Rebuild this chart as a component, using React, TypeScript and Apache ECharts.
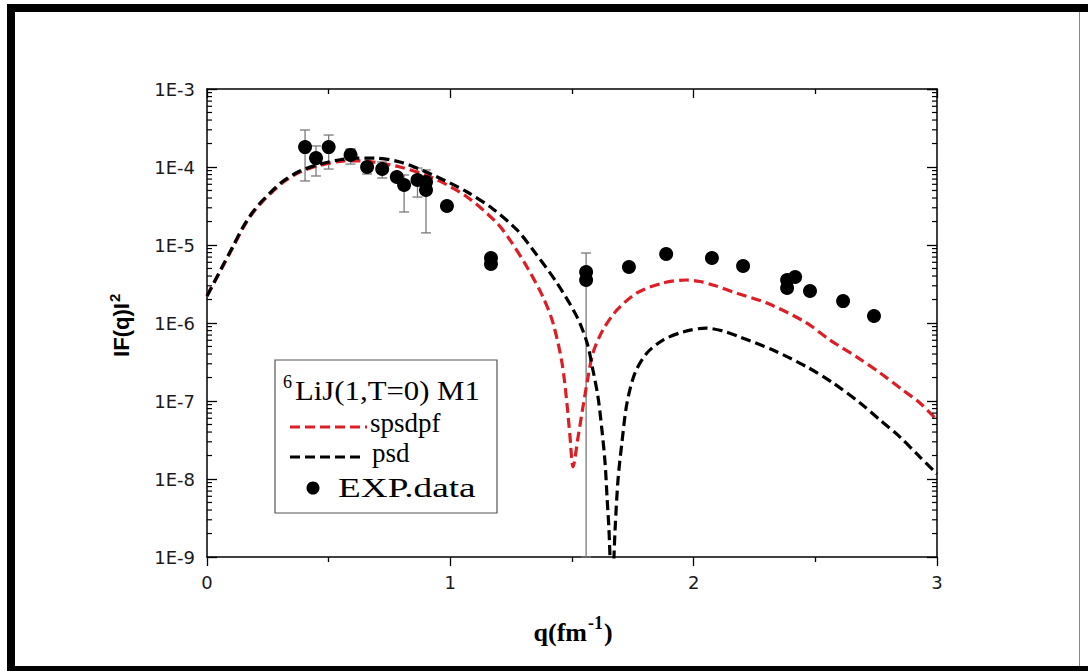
import React, { useEffect, useRef } from 'react';
import * as echarts from 'echarts';

// ---- Experimental data ----
const expQ = [0.403, 0.448, 0.5, 0.59, 0.658, 0.72, 0.78, 0.81, 0.865, 0.9, 0.9, 0.986, 1.167, 1.167, 1.558, 1.558, 1.734, 1.887, 2.075, 2.203, 2.384, 2.417, 2.384, 2.478, 2.614, 2.741];
const expVal = [1.8e-4, 1.3e-4, 1.8e-4, 1.43e-4, 1.0e-4, 9.42e-5, 7.44e-5, 5.88e-5, 6.81e-5, 6.42e-5, 5.07e-5, 3.16e-5, 6.81e-6, 5.71e-6, 4.51e-6, 3.56e-6, 5.22e-6, 7.67e-6, 6.81e-6, 5.38e-6, 3.56e-6, 3.89e-6, 2.81e-6, 2.57e-6, 1.91e-6, 1.23e-6];

// ---- Error bars ----
const errQ = [0.403, 0.448, 0.5, 0.59, 0.658, 0.72, 0.81, 0.865, 0.9, 1.558];
const errLow = [6.62e-5, 7.67e-5, 9.42e-5, 1.09e-4, 8.13e-5, 7.23e-5, 2.65e-5, 4.12e-5, 1.43e-5, 1e-9];
const errHigh = [2.98e-4, 1.86e-4, 2.57e-4, 1.7e-4, 1.12e-4, 1.16e-4, 7.9e-5, 9.7e-5, 9.16e-5, 7.89e-6];

// ---- psd (black dashed) ----
const psdQ = [0, 0.062, 0.103, 0.148, 0.185, 0.226, 0.267, 0.308, 0.382, 0.464, 0.547, 0.616, 0.682, 0.793, 0.929, 1.069, 1.175, 1.274, 1.34, 1.438, 1.521, 1.562, 1.586, 1.607, 1.623, 1.636, 1.644, 1.652, 1.664, 1.677, 1.689, 1.705, 1.726, 1.759, 1.808, 1.874, 1.956, 2.05, 2.12, 2.19, 2.326, 2.466, 2.573, 2.684, 2.766, 2.848, 2.93, 3.0];
const psdVal = [2.22e-6, 5.22e-6, 9.16e-6, 1.7e-5, 2.57e-5, 3.66e-5, 4.92e-5, 6.42e-5, 8.89e-5, 1.09e-4, 1.24e-4, 1.3e-4, 1.3e-4, 1.16e-4, 7.89e-5, 4.78e-5, 2.9e-5, 1.56e-5, 8.63e-6, 3.26e-6, 1.19e-6, 5.54e-7, 2.5e-7, 1.12e-7, 4.25e-8, 1.6e-8, 5.88e-9, 2.22e-9, 3e-10, 2.22e-9, 9.7e-9, 2.9e-8, 9.42e-8, 2.29e-7, 4.12e-7, 6.05e-7, 7.67e-7, 8.6e-7, 7.9e-7, 6.62e-7, 4.5e-7, 2.73e-7, 1.7e-7, 9.42e-8, 5.7e-8, 3.45e-8, 1.91e-8, 1.16e-8];

// ---- spsdpf (red dashed) ----
const spsQ = [0, 0.062, 0.103, 0.148, 0.185, 0.226, 0.267, 0.308, 0.382, 0.464, 0.547, 0.616, 0.682, 0.793, 0.929, 1.069, 1.192, 1.245, 1.315, 1.381, 1.422, 1.459, 1.479, 1.492, 1.504, 1.525, 1.545, 1.566, 1.586, 1.627, 1.685, 1.767, 1.874, 1.969, 2.026, 2.09, 2.162, 2.301, 2.458, 2.56, 2.671, 2.766, 2.86, 2.93, 3.0];
const spsVal = [2.22e-6, 5.1e-6, 8.9e-6, 1.65e-5, 2.5e-5, 3.55e-5, 4.75e-5, 6.2e-5, 8.6e-5, 1.05e-4, 1.18e-4, 1.2e-4, 1.16e-4, 1.0e-4, 7.23e-5, 4.12e-5, 1.91e-5, 1.16e-5, 5.22e-6, 2.15e-6, 1e-6, 3.07e-7, 9.42e-8, 3.45e-8, 1.43e-8, 3.45e-8, 8.38e-8, 2.03e-7, 4.12e-7, 8.13e-7, 1.47e-6, 2.43e-6, 3.26e-6, 3.56e-6, 3.4e-6, 3.0e-6, 2.5e-6, 1.8e-6, 1.03e-6, 6.05e-7, 3.66e-7, 2.29e-7, 1.38e-7, 9.42e-8, 5.7e-8];

// ---- axis ticks ----
const yDecades = [-9, -8, -7, -6, -5, -4];
const minorMult = [2, 3, 4, 5, 6, 7, 8, 9];

const RED = '#dc1f26';
const ERR = '#7a7a7a';
const serif = '"Liberation Serif", "Times New Roman", serif';
const sans = '"Liberation Sans", Arial, sans-serif';

function txt(x: number, y: number, text: string, font: string, align = 'left', extra: any = {}) {
  return {
    type: 'text', x, y, silent: true, ...extra,
    style: { text, font, fill: '#000', align, verticalAlign: 'middle', textAlign: align, textVerticalAlign: 'middle' },
  };
}

export default function App() {
  const ref = useRef<HTMLDivElement>(null);
  useEffect(() => {
    const chart = echarts.init(ref.current!, null, { renderer: 'svg' });
    const minorData: number[][] = [];
    yDecades.forEach((d) => minorMult.forEach((m) => minorData.push([0, m * Math.pow(10, d)])));

    const xAxisBase = {
      type: 'value', min: 0, max: 3, interval: 1,
      splitLine: { show: false },
      axisLine: { show: true, onZero: false, lineStyle: { color: '#000', width: 1.5 } },
    };
    const yAxisBase = {
      type: 'log', logBase: 10, min: 1e-9, max: 1e-3,
      splitLine: { show: false },
      axisLine: { show: true, onZero: false, lineStyle: { color: '#000', width: 1.5 } },
    };

    const option: any = {
      animation: false,
      grid: { left: 207, right: 151, top: 89, bottom: 114 },
      xAxis: [
        {
          ...xAxisBase, position: 'bottom',
          axisTick: { show: true, inside: false, length: 9, lineStyle: { color: '#000', width: 1.3 } },
          minorTick: { show: true, splitNumber: 2, length: 5, lineStyle: { color: '#000', width: 1.3 } },
          axisLabel: { fontSize: 18, fontFamily: '"DejaVu Sans", sans-serif', color: '#1a1a1a', margin: 16 },
        },
        {
          ...xAxisBase, position: 'top',
          axisTick: { show: true, inside: true, length: 9, lineStyle: { color: '#000', width: 1.3 } },
          minorTick: { show: true, splitNumber: 2, length: 5, lineStyle: { color: '#000', width: 1.3 } },
          axisLabel: { show: false },
        },
      ],
      yAxis: [
        {
          ...yAxisBase, position: 'left', splitNumber: 6,
          axisTick: { show: true, inside: true, length: 10, lineStyle: { color: '#000', width: 1.3 } },
          axisLabel: {
            fontSize: 18, fontFamily: '"DejaVu Sans", sans-serif', color: '#1a1a1a', margin: 12,
            formatter: (v: number) => '1E' + Math.round(Math.log10(v)),
          },
        },
        {
          ...yAxisBase, position: 'right', splitNumber: 6,
          axisTick: { show: true, inside: true, length: 10, lineStyle: { color: '#000', width: 1.3 } },
          axisLabel: { show: false },
        },
      ],
      series: [
        {
          type: 'custom', name: 'minorTicks', silent: true, z: 5,
          encode: { x: 0, y: 1 },
          data: minorData,
          renderItem: (params: any, api: any) => {
            const v = api.value(1);
            const l = api.coord([0, v]);
            const r = api.coord([3, v]);
            const st = { stroke: '#000', lineWidth: 1.2 };
            return {
              type: 'group', children: [
                { type: 'line', shape: { x1: l[0], y1: l[1], x2: l[0] + 5, y2: l[1] }, style: st },
                { type: 'line', shape: { x1: r[0] - 5, y1: r[1], x2: r[0], y2: r[1] }, style: st },
              ],
            };
          },
        },
        {
          type: 'custom', name: 'errors', silent: true, z: 3,
          encode: { x: 0, y: [1, 2] },
          data: errQ.map((q, i) => [q, errLow[i], errHigh[i]]),
          renderItem: (params: any, api: any) => {
            const q = api.value(0);
            const lo = api.coord([q, api.value(1)]);
            const hi = api.coord([q, api.value(2)]);
            const hw = 5;
            const st = { stroke: ERR, lineWidth: 1.3 };
            return {
              type: 'group', children: [
                { type: 'line', shape: { x1: lo[0], y1: lo[1], x2: hi[0], y2: hi[1] }, style: st },
                { type: 'line', shape: { x1: hi[0] - hw, y1: hi[1], x2: hi[0] + hw, y2: hi[1] }, style: st },
                { type: 'line', shape: { x1: lo[0] - hw, y1: lo[1], x2: lo[0] + hw, y2: lo[1] }, style: st },
              ],
            };
          },
        },
        {
          type: 'line', name: 'spsdpf', showSymbol: false, smooth: 0.3, z: 4,
          data: spsQ.map((q, i) => [q, spsVal[i]]),
          lineStyle: { color: RED, width: 3.2, type: [10, 5] },
        },
        {
          type: 'line', name: 'psd', showSymbol: false, smooth: 0.3, z: 4,
          data: psdQ.map((q, i) => [q, psdVal[i]]),
          lineStyle: { color: '#000', width: 3.2, type: [10, 5] },
        },
        {
          type: 'scatter', name: 'EXP.data', symbol: 'circle', symbolSize: 14, z: 6,
          itemStyle: { color: '#000', opacity: 1 },
          data: expQ.map((q, i) => [q, expVal[i]]),
        },
      ],
      graphic: [
        // frame
        { type: 'rect', silent: true, shape: { x: 7, y: 4, width: 1081, height: 8 }, style: { fill: '#000' } },
        { type: 'rect', silent: true, shape: { x: 7, y: 4, width: 8, height: 667 }, style: { fill: '#000' } },
        { type: 'rect', silent: true, shape: { x: 7, y: 666, width: 1081, height: 5 }, style: { fill: '#000' } },
        { type: 'line', silent: true, shape: { x1: 1079.5, y1: 12, x2: 1079.5, y2: 666 }, style: { stroke: '#888', lineWidth: 1 } },
        // axis titles
        {
          type: 'group', x: 121, y: 330, rotation: Math.PI / 2, silent: true,
          children: [
            txt(0, 0, 'IF(q)I', 'bold 22px ' + sans, 'center'),
            txt(28, -7, '2', 'bold 15px ' + sans, 'left'),
          ],
        },
        txt(587, 632, 'q(fm', 'bold 26px ' + serif, 'right'),
        txt(588, 623, '-1', 'bold 18px ' + serif, 'left'),
        txt(604, 632, ')', 'bold 26px ' + serif, 'left'),
        // legend
        { type: 'rect', silent: true, z: 10, shape: { x: 275, y: 360, width: 222, height: 153 }, style: { fill: '#fff', stroke: '#555', lineWidth: 1.2 } },
        txt(283, 382, '6', '18px ' + serif, 'left', { z: 11 }),
        txt(295, 391, 'LiJ(1,T=0) M1', '27px ' + serif, 'left', { z: 11, scaleX: 1.14 }),
        { type: 'line', silent: true, z: 11, shape: { x1: 290, y1: 427, x2: 367, y2: 427 }, style: { stroke: RED, lineWidth: 3.2, lineDash: [10, 5] } },
        txt(370, 423, 'spsdpf', '27px ' + serif, 'left', { z: 11 }),
        { type: 'line', silent: true, z: 11, shape: { x1: 290, y1: 457, x2: 363, y2: 457 }, style: { stroke: '#000', lineWidth: 3.2, lineDash: [10, 5] } },
        txt(372, 453, 'psd', '27px ' + serif, 'left', { z: 11 }),
        { type: 'circle', silent: true, z: 11, shape: { cx: 313, cy: 488, r: 6.5 }, style: { fill: '#000' } },
        txt(338, 488, 'EXP.data', '27px ' + serif, 'left', { z: 11, scaleX: 1.38 }),
      ],
    };
    chart.setOption(option);
    return () => chart.dispose();
  }, []);
  return (
    <div
      ref={ref}
      style={{ position: 'fixed', left: 0, top: 0, width: 1088, height: 671, background: '#fff' }}
    />
  );
}
